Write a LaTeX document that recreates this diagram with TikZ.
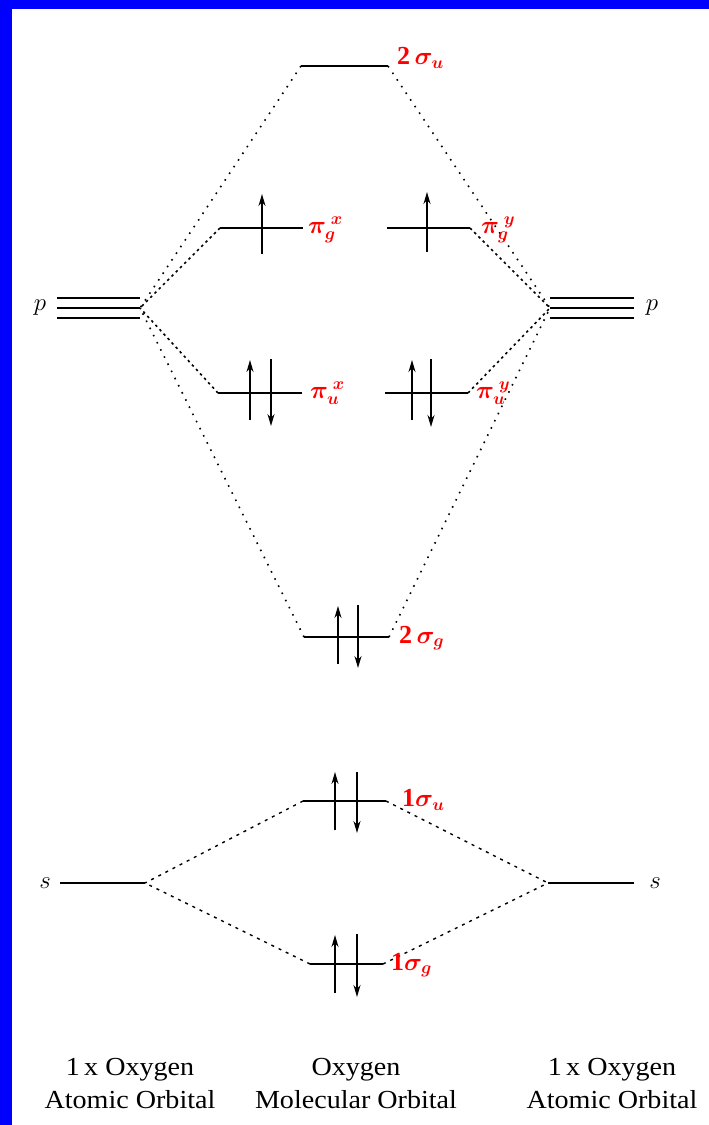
\documentclass[tikz,border=0pt]{standalone}
\usepackage{fontspec}
\setmainfont{Liberation Serif}
\usepackage{amsmath,bm}
\usetikzlibrary{arrows.meta}
\begin{document}
\begin{tikzpicture}[x=1pt,y=-1pt,
  level/.style={line width=1.6pt},
  spin/.style={line width=1.6pt,-{Stealth[length=12pt,width=7pt]}},
  dots/.style={line width=1.6pt,dash pattern=on 1.6pt off 6.4pt},
  pidash/.style={line width=1.6pt,dash pattern=on 2.5pt off 3.5pt},
  sdash/.style={line width=1.4pt,dash pattern=on 3pt off 5pt},
  lab/.style={text=red,font=\fontsize{26}{30}\selectfont\bfseries,anchor=west,inner sep=0pt},
  atom/.style={font=\fontsize{27}{30}\selectfont\itshape,inner sep=0pt},
  caption/.style={font=\fontsize{26}{33}\selectfont\addfontfeature{FakeStretch=1.08},align=center,inner sep=0pt}]
\useasboundingbox (0,0) rectangle (709,1125);
\fill[blue] (0,0) rectangle (709,1125);
\fill[white] (12,9) rectangle (709,1125);

% levels (coordinates)
\coordinate (suL) at (301,66);  \coordinate (suR) at (388,66);
\coordinate (pgxL) at (220,228); \coordinate (pgxR) at (303,228);
\coordinate (pgyL) at (387,228); \coordinate (pgyR) at (470,228);
\coordinate (puxL) at (218,393); \coordinate (puxR) at (302,393);
\coordinate (puyL) at (385,393); \coordinate (puyR) at (468,393);
\coordinate (sgL) at (304,637); \coordinate (sgR) at (389,637);
\coordinate (usL) at (303,801); \coordinate (usR) at (386,801);
\coordinate (gsL) at (310,964); \coordinate (gsR) at (383,964);
\coordinate (pL) at (140,308); \coordinate (pR) at (550,308);
\coordinate (sL) at (145,883); \coordinate (sR) at (548,883);

\draw[level] (suL) -- (suR);
\draw[level] (pgxL) -- (pgxR);
\draw[level] (pgyL) -- (pgyR);
\draw[level] (puxL) -- (puxR);
\draw[level] (puyL) -- (puyR);
\draw[level] (sgL) -- (sgR);
\draw[level] (usL) -- (usR);
\draw[level] (gsL) -- (gsR);
\draw[level] (57,298) -- (140,298) (57,308) -- (pL) (57,318) -- (140,318);
\draw[level] (550,298) -- (634,298) (pR) -- (634,308) (550,318) -- (634,318);
\draw[level] (60,883) -- (sL);
\draw[level] (sR) -- (634,883);

% correlation lines
\draw[dots] (suL) -- (pL);
\draw[dots] (suR) -- (pR);
\draw[pidash] (pgxL) -- (pL);
\draw[pidash] (pgyR) -- (pR);
\draw[pidash] (puxL) -- (pL);
\draw[pidash] (puyR) -- (pR);
\draw[dots] (sgL) -- (pL);
\draw[dots] (sgR) -- (pR);
\draw[sdash] (usL) -- (sL);
\draw[sdash] (usR) -- (sR);
\draw[sdash] (gsL) -- (sL);
\draw[sdash] (gsR) -- (sR);

% electrons
\draw[spin] (262,254) -- (262,194);
\draw[spin] (427,252) -- (427,192);
\draw[spin] (250,420) -- (250,360);
\draw[spin] (271,359) -- (271,426);
\draw[spin] (412,420) -- (412,360);
\draw[spin] (431,359) -- (431,427);
\draw[spin] (338,664) -- (338,606);
\draw[spin] (358,605) -- (358,668);
\draw[spin] (335,830) -- (335,772);
\draw[spin] (357,772) -- (357,833);
\draw[spin] (335,993) -- (335,935);
\draw[spin] (357,934) -- (357,997);

% labels
\node[lab] (l1) at (397,58) {2\,$\bm{\sigma}_{\bm{u}}$};
\node[lab] (l2) at (308,230) {$\bm{\pi}_{\bm{g}}^{\;\bm{x}}$};
\node[lab] (l3) at (481,230) {$\bm{\pi}_{\bm{g}}^{\;\bm{y}}$};
\node[lab] (l4) at (310,393) {$\bm{\pi}_{\bm{u}}^{\;\bm{x}}$};
\node[lab] (l5) at (476,393) {$\bm{\pi}_{\bm{u}}^{\;\bm{y}}$};
\node[lab] (l6) at (399,638) {2\,$\bm{\sigma}_{\bm{g}}$};
\node[lab] (l7) at (402,800) {1$\bm{\sigma}_{\bm{u}}$};
\node[lab] (l8) at (391,965) {1$\bm{\sigma}_{\bm{g}}$};

\node[atom] (pl) at (40,308) {$p$};
\node[atom] (pr) at (652,308) {$p$};
\node[atom] (sl) at (45,883) {$s$};
\node[atom] (sr) at (655,883) {$s$};

\node[caption] (c1) at (130,1084) {1\,x Oxygen\\Atomic Orbital};
\node[caption] (c2) at (356,1084) {Oxygen\\Molecular Orbital};
\node[caption] (c3) at (612,1084) {1\,x Oxygen\\Atomic Orbital};
\end{tikzpicture}
\end{document}
